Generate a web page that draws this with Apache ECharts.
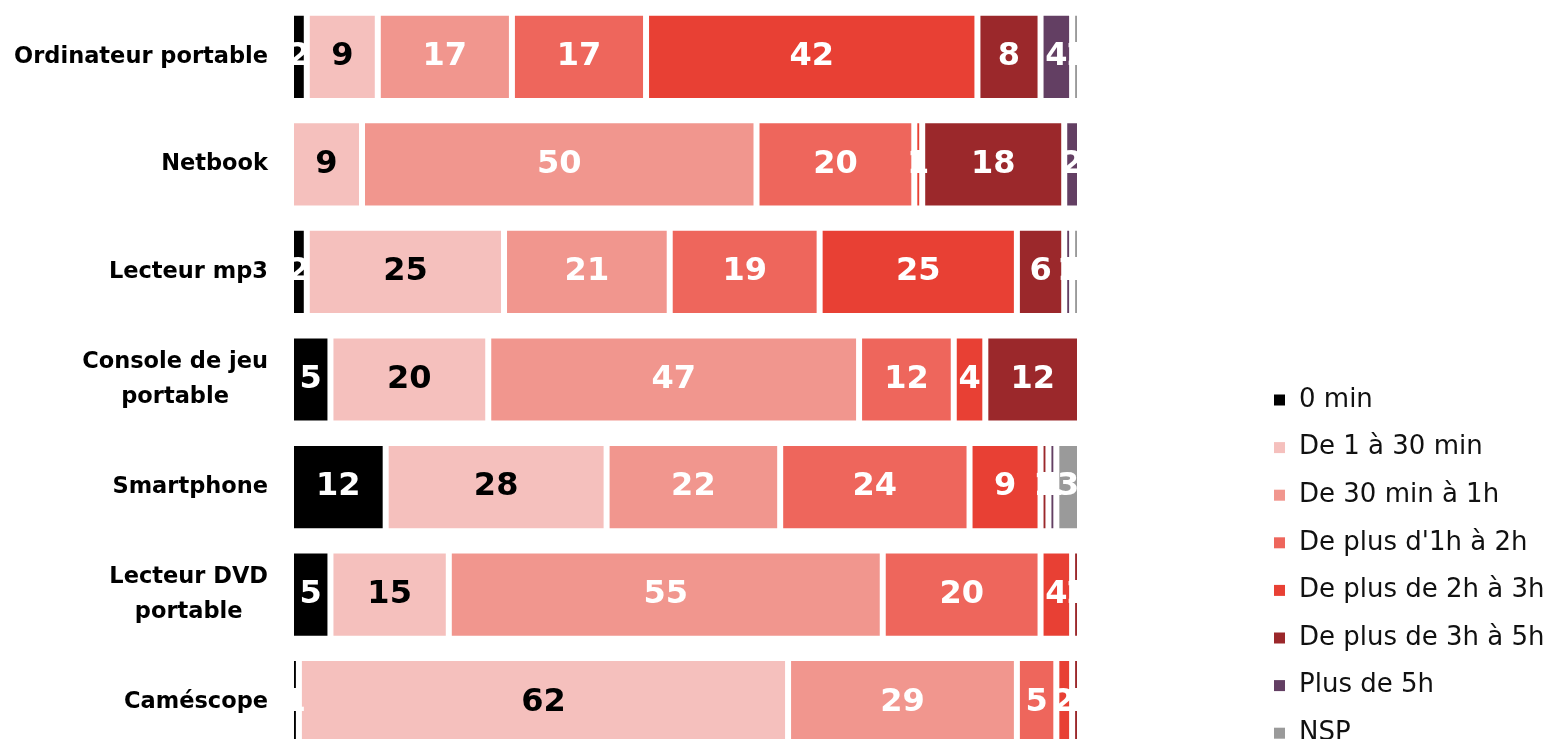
<!DOCTYPE html>
<html>
<head>
<meta charset="utf-8">
<script src="https://cdn.jsdelivr.net/npm/echarts@6/dist/echarts.min.js"></script>
<style>
  html, body { margin: 0; padding: 0; background: #fff; overflow: hidden; }
  #chart { width: 1548px; height: 760px; }
</style>
</head>
<body>
<div id="chart"></div>
<script>
// appareils (de haut en bas)
const categories = [
  'Ordinateur portable',
  'Netbook',
  'Lecteur mp3',
  'Console de jeu\nportable',
  'Smartphone',
  'Lecteur DVD\nportable',
  'Caméscope'
]

const seriesNames = [
  '0 min',
  'De 1 à 30 min',
  'De 30 min à 1h',
  "De plus d'1h à 2h",
  'De plus de 2h à 3h',
  'De plus de 3h à 5h',
  'Plus de 5h',
  'NSP'
]

// % par tranche, une valeur par appareil
const zeroMin     = [2, 0, 2, 5, 12, 5, 1]
const min1to30    = [9, 9, 25, 20, 28, 15, 62]
const min30to1h   = [17, 50, 21, 47, 22, 55, 29]
const h1to2       = [17, 20, 19, 12, 24, 20, 5]
const h2to3       = [42, 1, 25, 4, 9, 4, 2]
const h3to5       = [8, 18, 6, 12, 1, 1, 1]
const over5h      = [4, 2, 1, 0, 1, 0, 0]
const nsp         = [1, 0, 1, 0, 3, 0, 0]

const seriesData = [zeroMin, min1to30, min30to1h, h1to2, h2to3, h3to5, over5h, nsp]
const colors = ['#000000', '#f5c0bd', '#f1968e', '#ee665c', '#e84034', '#9b282b', '#633f63', '#9a9a9a']
const labelColors = ['#ffffff', '#000000', '#ffffff', '#ffffff', '#ffffff', '#ffffff', '#ffffff', '#ffffff']

const chart = echarts.init(document.getElementById('chart'))

chart.setOption({
  animation: false,
  color: colors,
  grid: { left: 291, right: 468, top: 3, bottom: 4 },
  legend: {
    orient: 'vertical',
    left: 1269,
    top: 380,
    icon: 'rect',
    itemWidth: 11,
    itemHeight: 11,
    itemGap: 17.6,
    itemStyle: { borderWidth: 0 },
    data: seriesNames,
    textStyle: {
      fontFamily: 'DejaVu Sans',
      fontSize: 26,
      lineHeight: 30,
      color: '#111',
      padding: [0, 0, 0, 9]
    }
  },
  xAxis: {
    type: 'value',
    min: 0,
    max: 100,
    show: false
  },
  yAxis: {
    type: 'category',
    inverse: true,
    data: categories,
    axisLine: { show: false },
    axisTick: { show: false },
    axisLabel: {
      margin: 23,
      align: 'right',
      // lignes centrées entre elles, bloc aligné à droite
      formatter: v => v.split('\n').map(s => '{c|' + s + '}').join('\n'),
      rich: {
        c: {
          align: 'center',
          fontFamily: 'DejaVu Sans',
          fontWeight: 'bold',
          fontSize: 22.5,
          lineHeight: 35,
          color: '#000'
        }
      }
    }
  },
  series: seriesNames.map((name, i) => ({
    name: name,
    type: 'bar',
    stack: 'total',
    barWidth: '82%',
    data: seriesData[i],
    itemStyle: { borderColor: '#ffffff', borderWidth: 3 },
    label: {
      show: true,
      position: 'inside',
      fontFamily: 'DejaVu Sans',
      fontWeight: 'bold',
      fontSize: 32,
      color: labelColors[i],
      formatter: p => (p.value > 0 ? String(p.value) : '')
    }
  }))
})
</script>
</body>
</html>
